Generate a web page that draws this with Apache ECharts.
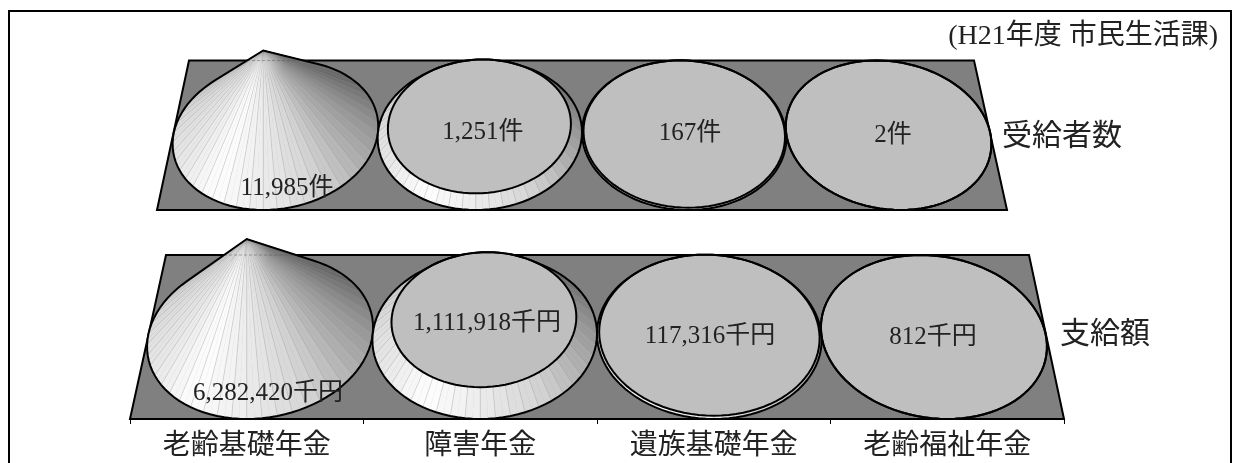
<!DOCTYPE html>
<html>
<head>
<meta charset="utf-8">
<style>html,body{margin:0;padding:0;background:#fff}</style>
<script src="https://cdn.jsdelivr.net/npm/echarts@6/dist/echarts.min.js"></script>
</head>
<body>
<div id="main" style="width:1233px;height:463px"></div>
<script>
// データ
var categories = ['老齢基礎年金', '障害年金', '遺族基礎年金', '老齢福祉年金'];
var rowNames = ['受給者数', '支給額'];
var recipients = [11985, 1251, 167, 2];
var payments = [6282420, 1111918, 117316, 812];
var recipientLabels = ['11,985件', '1,251件', '167件', '2件'];
var paymentLabels = ['6,282,420千円', '1,111,918千円', '117,316千円', '812千円'];
var note = '(H21年度 市民生活課)';

var FONT = '"Liberation Serif","Noto Sans CJK JP",serif';

// 面の台形と文字の位置
var rows = [
  {left: 157, right: 1007, top: 50.5, bottom: 210, backLeft: 189, backRight: 974, backY: 60.5,
   labelPos: [[287, 188], [483, 132], [690, 133], [893, 135]]},
  {left: 130, right: 1064, top: 239, bottom: 419, backLeft: 166, backRight: 1029, backY: 255,
   labelPos: [[268, 393], [487, 323], [710, 336], [933, 337]]}
];
var rowMax = [recipients[0], payments[0]];

// 側面の濃淡(角度, 灰色)
var shadeStops = [[-180, 222], [-150, 232], [-120, 254], [-90, 236], [-60, 214], [-30, 178], [0, 150], [45, 100], [90, 120], [135, 200], [180, 222]];

function shade(deg) {
  for (var i = 0; i < shadeStops.length - 1; i++) {
    var a = shadeStops[i], b = shadeStops[i + 1];
    if (deg <= b[0]) {
      return Math.round(a[1] + (b[1] - a[1]) * (deg - a[0]) / (b[0] - a[0]));
    }
  }
  return 222;
}

function gray(g) {
  return 'rgb(' + g + ',' + g + ',' + g + ')';
}

// 床の上の点(u:0-1 横, v:0-1 奥行)を画面へ射影
function project(row, x0, x1, u, v) {
  var frontW = x1 - x0;
  var backW = row.backRight - row.backLeft;
  var k = frontW / backW - 1;
  var w = 1 + k * v;
  var cx = (x0 + x1) / 2;
  return [
    cx + (u - 0.5) * frontW / w,
    row.bottom - (row.bottom - row.backY) * v * (1 + k) / w
  ];
}

function hull(points) {
  var pts = points.slice().sort(function (a, b) { return a[0] - b[0] || a[1] - b[1]; });
  function cross(o, a, b) { return (a[0] - o[0]) * (b[1] - o[1]) - (a[1] - o[1]) * (b[0] - o[0]); }
  var lower = [], upper = [];
  pts.forEach(function (p) {
    while (lower.length > 1 && cross(lower[lower.length - 2], lower[lower.length - 1], p) <= 0) lower.pop();
    lower.push(p);
  });
  pts.reverse().forEach(function (p) {
    while (upper.length > 1 && cross(upper[upper.length - 2], upper[upper.length - 1], p) <= 0) upper.pop();
    upper.push(p);
  });
  return lower.slice(0, -1).concat(upper.slice(0, -1));
}

// 輪郭と水平線 y の交点の左右端
function spanAt(poly, y) {
  var xs = [];
  poly.forEach(function (p, i) {
    var q = poly[(i + 1) % poly.length];
    if ((p[1] - y) * (q[1] - y) < 0) {
      xs.push(p[0] + (q[0] - p[0]) * (y - p[1]) / (q[1] - p[1]));
    }
  });
  return xs.length < 2 ? null : [Math.min.apply(null, xs), Math.max.apply(null, xs)];
}

function floorItem(rowIndex) {
  return function (params, api) {
    var row = rows[rowIndex];
    var a = api.coord([0, 0]), d = api.coord([categories.length - 1, 0]);
    var band = api.size([1, 0])[0];
    var x0 = a[0] - band / 2, x1 = d[0] + band / 2;
    return {
      type: 'polygon',
      silent: true,
      shape: {points: [[x0, row.bottom], [x1, row.bottom], [row.backRight, row.backY], [row.backLeft, row.backY]]},
      style: {fill: '#808080', stroke: '#000', lineWidth: 2}
    };
  };
}

function coneItem(rowIndex, labels) {
  return function (params, api) {
    var row = rows[rowIndex];
    var i = api.value(0);
    var base = api.coord([i, 0]);
    var top = api.coord([i, api.value(1)]);
    var apexY = api.coord([i, rowMax[rowIndex]])[1];
    var f = (base[1] - top[1]) / (base[1] - apexY);
    var band = api.size([1, 0])[0];
    var x0 = base[0] - band * (i + 0.5);
    var x1 = x0 + band * categories.length;
    var apex = [base[0], apexY];
    var n = 96, baseRing = [], topRing = [];
    for (var s = 0; s < n; s++) {
      var t = -Math.PI + s * 2 * Math.PI / n;
      var u = (i + 0.5 + 0.5 * Math.cos(t)) / categories.length;
      var v = 0.5 + 0.5 * Math.sin(t);
      var p = project(row, x0, x1, u, v);
      baseRing.push(p);
      topRing.push([p[0] + (apex[0] - p[0]) * f, p[1] + (apex[1] - p[1]) * f]);
    }
    var children = [];
    // 側面: 奥から手前へ
    var order = [];
    for (s = 0; s < n; s++) order.push(s);
    order.sort(function (a, b) { return baseRing[a][1] - baseRing[b][1]; });
    order.forEach(function (j) {
      var k = (j + 1) % n;
      var deg = -180 + (Math.floor(j / 2) * 2 + 1) * 360 / n;
      var g = shade(deg);
      var col = gray(g);
      var fill = col;
      // 頂点付近は白っぽく
      if (f > 0.5) {
        fill = new echarts.graphic.LinearGradient(baseRing[j][0], baseRing[j][1], apex[0], apex[1], [
          {offset: 0, color: col},
          {offset: 0.82, color: col},
          {offset: 1, color: gray(Math.round((g + 240) / 2))}
        ], true);
      }
      children.push({
        type: 'polygon', silent: true,
        shape: {points: [baseRing[j], baseRing[k], topRing[k], topRing[j]]},
        style: {fill: fill, stroke: fill, lineWidth: 0.5}
      });
    });
    // 面の境目の細い線
    for (s = 0; s < n; s += 2) {
      children.push({
        type: 'line', silent: true,
        shape: {x1: baseRing[s][0], y1: baseRing[s][1], x2: topRing[s][0], y2: topRing[s][1]},
        style: {stroke: 'rgba(140,140,140,0.45)', lineWidth: 0.6}
      });
    }
    var outline = hull(baseRing.concat(topRing));
    // 透けて見える床の奥の線
    var span = f > 0.5 ? spanAt(outline, row.backY) : null;
    if (span) {
      children.push({
        type: 'line', silent: true,
        shape: {x1: span[0], y1: row.backY, x2: span[1], y2: row.backY},
        style: {stroke: 'rgba(90,90,90,0.5)', lineWidth: 1, lineDash: [3, 2]}
      });
    }
    // 上面
    if (f < 0.98) {
      children.push({
        type: 'polygon', silent: true,
        shape: {points: topRing},
        style: {fill: '#bfbfbf', stroke: '#000', lineWidth: 2}
      });
    }
    // 輪郭
    children.push({
      type: 'polygon', silent: true,
      shape: {points: outline},
      style: {fill: 'none', stroke: '#000', lineWidth: 2}
    });
    children.push({
      type: 'text', silent: true,
      style: {
        x: row.labelPos[i][0], y: row.labelPos[i][1], text: labels[i],
        align: 'center', verticalAlign: 'middle',
        font: '25px ' + FONT, fill: '#222'
      }
    });
    return {type: 'group', children: children};
  };
}

function toData(values) {
  return values.map(function (v, i) { return [i, v]; });
}

function makeGrid(row) {
  return {left: row.left, width: row.right - row.left, top: row.top, height: row.bottom - row.top};
}

var chart = echarts.init(document.getElementById('main'), null, {renderer: 'canvas'});
chart.setOption({
  animation: false,
  backgroundColor: '#fff',
  grid: rows.map(makeGrid),
  xAxis: [
    {
      type: 'category', gridIndex: 0, data: categories, boundaryGap: true,
      axisLine: {lineStyle: {color: '#000', width: 2}},
      axisTick: {show: false},
      axisLabel: {show: false}
    },
    {
      type: 'category', gridIndex: 1, data: categories, boundaryGap: true,
      axisLine: {lineStyle: {color: '#000', width: 2}},
      axisTick: {show: true, alignWithLabel: false, length: 5, lineStyle: {color: '#000'}},
      axisLabel: {show: true, interval: 0, margin: 14, color: '#222', fontFamily: FONT, fontSize: 28}
    }
  ],
  yAxis: [
    {type: 'value', gridIndex: 0, min: 0, max: rowMax[0], show: false},
    {type: 'value', gridIndex: 1, min: 0, max: rowMax[1], show: false}
  ],
  series: [
    {type: 'custom', name: rowNames[0] + '床', xAxisIndex: 0, yAxisIndex: 0, z: 1, clip: false, data: [[0, 0]], renderItem: floorItem(0), encode: {x: 0, y: 1}},
    {type: 'custom', name: rowNames[1] + '床', xAxisIndex: 1, yAxisIndex: 1, z: 1, clip: false, data: [[0, 0]], renderItem: floorItem(1), encode: {x: 0, y: 1}},
    {type: 'custom', name: rowNames[0], xAxisIndex: 0, yAxisIndex: 0, z: 3, clip: false, data: toData(recipients), renderItem: coneItem(0, recipientLabels), encode: {x: 0, y: 1}},
    {type: 'custom', name: rowNames[1], xAxisIndex: 1, yAxisIndex: 1, z: 3, clip: false, data: toData(payments), renderItem: coneItem(1, paymentLabels), encode: {x: 0, y: 1}}
  ],
  graphic: [
    {type: 'polyline', silent: true, z: 10, shape: {points: [[9, 470], [9, 11], [1231, 11], [1231, 470]]}, style: {fill: 'none', stroke: '#000', lineWidth: 2}},
    {type: 'text', silent: true, z: 10, style: {x: 1218, y: 37, text: note, align: 'right', verticalAlign: 'middle', font: '28px ' + FONT, fill: '#222'}},
    {type: 'text', silent: true, z: 10, style: {x: 1002, y: 137, text: rowNames[0], align: 'left', verticalAlign: 'middle', font: '30px ' + FONT, fill: '#222'}},
    {type: 'text', silent: true, z: 10, style: {x: 1060, y: 335, text: rowNames[1], align: 'left', verticalAlign: 'middle', font: '30px ' + FONT, fill: '#222'}}
  ]
});
</script>
</body>
</html>
